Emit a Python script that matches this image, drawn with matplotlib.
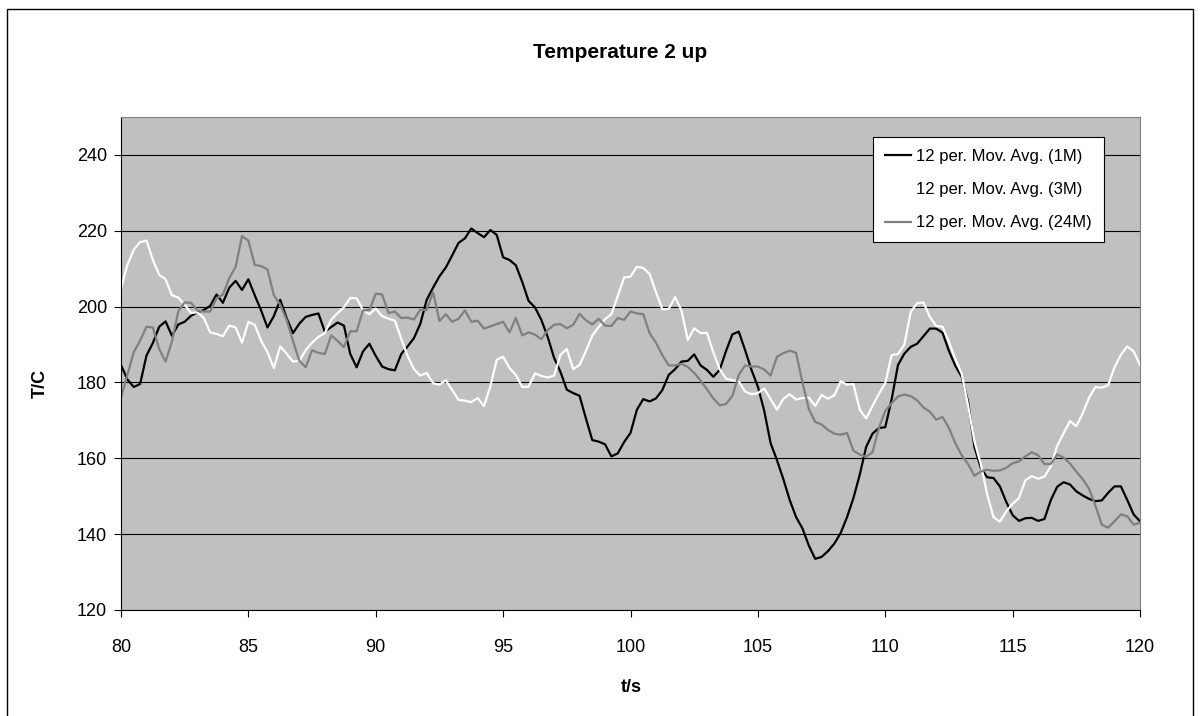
import numpy as np
import matplotlib.pyplot as plt
from matplotlib.patches import Rectangle

plt.rcParams['font.family'] = ['Liberation Sans', 'DejaVu Sans']

# time axis, 0.25 s steps
t = np.arange(80, 120.001, 0.25)

avg_1m = [
    184.6, 180.8, 178.8, 179.6, 187.1, 190.4, 194.7, 196.1, 192.3, 195.3,
    196.0, 197.6, 198.5, 199.1, 200.2, 203.2, 201.0, 205.0, 206.8, 204.4,
    207.2, 203.0, 199.0, 194.5, 197.5, 201.8, 197.0,
    193.0, 195.5, 197.3, 197.8, 198.2, 193.4, 194.6, 195.8, 195.0, 187.5,
    184.0, 188.2, 190.2, 187.0, 184.2, 183.5, 183.2, 187.5, 189.5, 191.7,
    195.5, 201.8, 205.0, 208.0, 210.3, 213.5, 216.8,
    218.0, 220.6, 219.4, 218.3, 220.2, 218.9, 213.0, 212.3, 210.9, 206.5,
    201.5, 199.8, 196.5, 192.0, 186.5, 182.8, 178.1, 177.2, 176.5, 170.5,
    164.8, 164.4, 163.7, 160.5, 161.3, 164.3, 166.7,
    172.8, 175.6, 175.0, 175.8, 178.0, 182.0, 183.5, 185.5, 185.7, 187.4,
    184.5, 183.3, 181.5, 183.3, 188.3, 192.7, 193.4, 188.5, 183.3, 178.9,
    172.5, 164.0, 159.5, 154.5, 149.0, 144.5,
    141.5, 137.0, 133.5, 134.0, 135.5, 137.5, 140.3, 144.5, 149.5, 155.7,
    163.0, 166.5, 168.0, 168.2, 175.5, 184.6, 187.6, 189.4, 190.2, 192.2,
    194.2, 194.2, 193.1, 188.3, 184.4, 181.5, 175.0,
    163.0, 157.5, 155.0, 154.8, 152.6, 148.5, 145.0, 143.5, 144.2, 144.3,
    143.5, 144.0, 149.0, 152.5, 153.7, 153.1, 151.3, 150.2, 149.3, 148.7,
    148.9, 150.9, 152.6, 152.6, 149.0, 145.2, 143.4,
]

avg_3m = [
    204.8, 211.0, 215.0, 217.0, 217.4, 212.3, 208.4, 207.2, 203.0, 202.4,
    200.5, 198.3, 198.5, 197.0, 193.2, 192.8, 192.2, 195.0, 194.5, 190.5,
    196.0, 195.2, 191.0, 188.0, 183.8, 189.5, 187.6,
    185.5, 185.7, 188.5, 190.5, 192.0, 193.0, 196.5, 198.3, 199.8, 202.3,
    202.2, 199.1, 198.0, 199.5, 197.5, 196.8, 196.3, 191.5, 187.0, 183.5,
    181.8, 182.5, 179.8, 179.4, 180.6, 178.0, 175.4,
    175.2, 174.8, 175.9, 173.8, 179.0, 186.0, 186.8, 183.8, 182.0, 178.8,
    178.9, 182.4, 181.7, 181.3, 181.8, 187.3, 188.8, 183.5, 184.6, 188.3,
    192.4, 194.6, 196.7, 198.0, 202.8, 207.7, 207.9,
    210.5, 210.2, 208.6, 203.8, 199.3, 199.4, 202.5, 199.0, 191.2, 194.3,
    193.0, 193.1, 188.0, 183.5, 181.0, 180.6, 180.3, 177.6, 176.9, 177.2,
    178.4, 175.6, 172.8, 175.7, 176.9, 175.5,
    175.9, 176.0, 173.8, 176.7, 175.7, 176.6, 180.3, 179.4, 179.6, 172.8,
    170.5, 173.8, 177.0, 179.8, 187.2, 187.5, 190.0, 198.6, 200.9, 201.1,
    197.3, 194.9, 194.7, 190.7, 186.2, 182.3, 174.0,
    164.5, 158.5, 150.5, 144.5, 143.3, 146.0, 148.0, 149.5, 154.2, 155.3,
    154.6, 155.2, 157.9, 163.3, 166.6, 169.8, 168.5, 171.8, 176.0, 178.8,
    178.6, 179.3, 184.0, 187.3, 189.5, 188.2, 184.6,
]

avg_24m = [
    176.0, 182.0, 188.0, 191.0, 194.7, 194.5, 188.8, 185.5, 190.8, 198.8,
    201.1, 201.0, 199.0, 198.7, 198.7, 202.2, 203.2, 207.5, 210.5, 218.6,
    217.4, 211.0, 210.7, 209.8, 203.0, 200.5, 196.5,
    191.0, 185.7, 184.0, 188.5, 187.8, 187.5, 192.4, 191.0, 189.3, 193.5,
    193.5, 199.0, 199.1, 203.4, 203.2, 198.3, 198.7, 197.0, 197.1, 196.6,
    199.2, 199.1, 203.8, 196.2, 198.0, 196.0, 196.8,
    199.0, 196.0, 196.3, 194.2, 194.8, 195.4, 196.0, 193.2, 197.0, 192.4,
    193.2, 192.6, 191.4, 193.8, 195.2, 195.4, 194.3, 195.2, 198.1, 196.4,
    195.3, 196.8, 195.0, 194.9, 197.0, 196.5, 198.7,
    198.2, 198.0, 193.0, 190.5, 187.2, 184.5, 184.5, 184.9, 184.1, 182.5,
    180.5, 178.2, 175.8, 174.0, 174.3, 176.5, 182.0, 184.5, 184.2, 184.2,
    183.4, 181.8, 186.8, 187.7, 188.4, 187.8,
    180.0, 173.0, 169.6, 168.9, 167.5, 166.5, 166.2, 166.7, 162.0, 161.0,
    160.4, 161.6, 168.0, 172.5, 174.5, 176.3, 176.8, 176.4, 175.3, 173.4,
    172.3, 170.2, 170.9, 168.0, 164.0, 160.8, 158.5,
    155.4, 156.5, 157.0, 156.7, 156.8, 157.5, 158.7, 159.2, 160.5, 161.6,
    160.8, 158.5, 158.5, 161.0, 160.2, 158.6, 156.5, 154.5, 152.0, 147.5,
    142.5, 141.7, 143.4, 145.2, 144.7, 142.5, 143.0,
]

labels = ['12 per. Mov. Avg. (1M)', '12 per. Mov. Avg. (3M)',
          '12 per. Mov. Avg. (24M)']
colors = ['black', 'white', '#808080']

W, H = 1201, 716
fig = plt.figure(figsize=(W / 100, H / 100), dpi=100)
ax = fig.add_axes([121 / W, 1 - 610 / H, (1140 - 121) / W, (610 - 117) / H])
ax.set_facecolor('#C0C0C0')

for y, label, color in zip([avg_1m, avg_3m, avg_24m], labels, colors):
    ax.plot(t, y, color=color, lw=1.6, label=label)

ax.set_xlim(80, 120)
ax.set_ylim(120, 250)
ax.set_xticks(np.arange(80, 121, 5))
ax.set_yticks(np.arange(120, 241, 20))
ax.grid(axis='y', color='black', lw=0.8)
ax.set_axisbelow(True)

for side in ['top', 'right']:
    ax.spines[side].set_color('#808080')
for side in ['left', 'bottom']:
    ax.spines[side].set_color('black')
ax.tick_params(axis='y', direction='out', length=5, pad=5, labelsize=13)
ax.tick_params(axis='x', direction='out', length=5, pad=16, labelsize=13)

fig.text(620 / W, 1 - 52 / H, 'Temperature 2 up', ha='center', va='center',
         fontsize=15, fontweight='bold')
fig.text(40 / W, 1 - 383 / H, 'T/C', ha='center', va='center',
         fontsize=13, fontweight='bold', rotation=90)
fig.text(631 / W, 1 - 687 / H, 't/s', ha='center', va='center',
         fontsize=13, fontweight='bold')

leg = ax.legend(loc='upper left', bbox_to_anchor=(873 / W, 1 - 137 / H),
                bbox_transform=fig.transFigure, fontsize=12, frameon=True,
                fancybox=False, framealpha=1, edgecolor='black',
                handlelength=1.6, handletextpad=0.3, labelspacing=1.1,
                borderpad=0.7, borderaxespad=0)
leg.get_frame().set_linewidth(0.8)

fig.patches.append(Rectangle((7 / W, -0.05), (1193 - 7) / W, 1.05 - 9 / H,
                             transform=fig.transFigure, fill=False,
                             edgecolor='black', lw=1))

fig.savefig('out.png', dpi=100)
